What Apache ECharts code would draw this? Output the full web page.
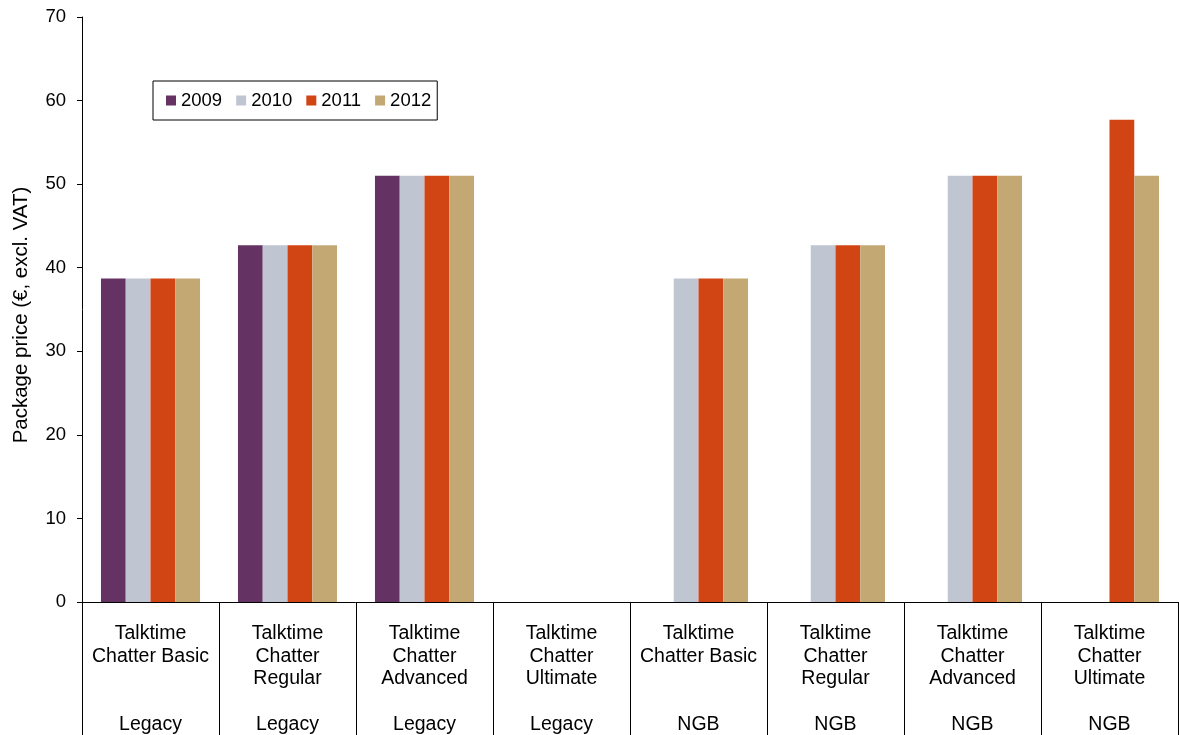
<!DOCTYPE html>
<html>
<head>
<meta charset="utf-8">
<script src="https://cdn.jsdelivr.net/npm/echarts@6/dist/echarts.min.js"></script>
<style>
html,body{margin:0;padding:0;background:#fff;}
#chart{width:1179px;height:735px;}
</style>
</head>
<body>
<div id="chart"></div>
<script>
const categories = [
  'Talktime\nChatter Basic',
  'Talktime\nChatter\nRegular',
  'Talktime\nChatter\nAdvanced',
  'Talktime\nChatter\nUltimate',
  'Talktime\nChatter Basic',
  'Talktime\nChatter\nRegular',
  'Talktime\nChatter\nAdvanced',
  'Talktime\nChatter\nUltimate'
];
const groups = ['Legacy', 'Legacy', 'Legacy', 'Legacy', 'NGB', 'NGB', 'NGB', 'NGB'];
const years = ['2009', '2010', '2011', '2012'];
const s2009 = [38.7, 42.7, 51.0, null, null, null, null, null];
const s2010 = [38.7, 42.7, 51.0, null, 38.7, 42.7, 51.0, null];
const s2011 = [38.7, 42.7, 51.0, null, 38.7, 42.7, 51.0, 57.7];
const s2012 = [38.7, 42.7, 51.0, null, 38.7, 42.7, 51.0, 51.0];
const yTicks = [0, 10, 20, 30, 40, 50, 60, 70];
const yTitle = 'Package price (€, excl. VAT)';

const colors = ['#643263', '#BFC5D1', '#D14515', '#C4A874'];
const font = "'Liberation Sans', Arial, sans-serif";
const seriesData = [s2009, s2010, s2011, s2012];

const chart = echarts.init(document.getElementById('chart'));
chart.setOption({
  animation: false,
  textStyle: { fontFamily: font },
  grid: { left: 82, right: 1, top: 17, bottom: 133, containLabel: false, outerBoundsMode: 'none' },
  legend: {
    data: years,
    left: 153,
    top: 81,
    orient: 'horizontal',
    icon: 'rect',
    itemWidth: 10,
    itemHeight: 10,
    itemGap: 14,
    padding: [10, 6, 10, 13],
    borderColor: '#000',
    borderWidth: 1,
    textStyle: { fontSize: 18.5, color: '#000', fontFamily: font }
  },
  xAxis: {
    type: 'category',
    data: categories,
    axisLine: { show: true, lineStyle: { color: '#000', width: 1 } },
    axisTick: { show: true, interval: 0, length: 134, lineStyle: { color: '#000', width: 1 } },
    axisLabel: {
      interval: 0,
      margin: 20,
      fontSize: 19.5,
      lineHeight: 22.75,
      color: '#000',
      fontFamily: font,
      align: 'center',
      formatter: function (value, idx) {
        const lines = value.split('\n');
        while (lines.length < 4) lines.push(' ');
        lines.push(groups[idx]);
        return lines.join('\n');
      }
    },
    splitLine: { show: false }
  },
  yAxis: {
    type: 'value',
    min: yTicks[0],
    max: yTicks[yTicks.length - 1],
    interval: 10,
    name: yTitle,
    nameLocation: 'middle',
    nameGap: 50,
    nameRotate: 90,
    nameTextStyle: { fontSize: 20.5, color: '#000', fontFamily: font, padding: [0, 11, 0, 0] },
    axisLine: { show: true, lineStyle: { color: '#000', width: 1 } },
    axisTick: { show: true, length: 5, lineStyle: { color: '#000' } },
    axisLabel: { margin: 16, fontSize: 18.5, color: '#000', fontFamily: font },
    splitLine: { show: false }
  },
  series: years.map((y, i) => ({
    name: y,
    type: 'bar',
    data: seriesData[i],
    barGap: '0%',
    barCategoryGap: '27.7%',
    itemStyle: { color: colors[i] }
  }))
});
</script>
</body>
</html>
